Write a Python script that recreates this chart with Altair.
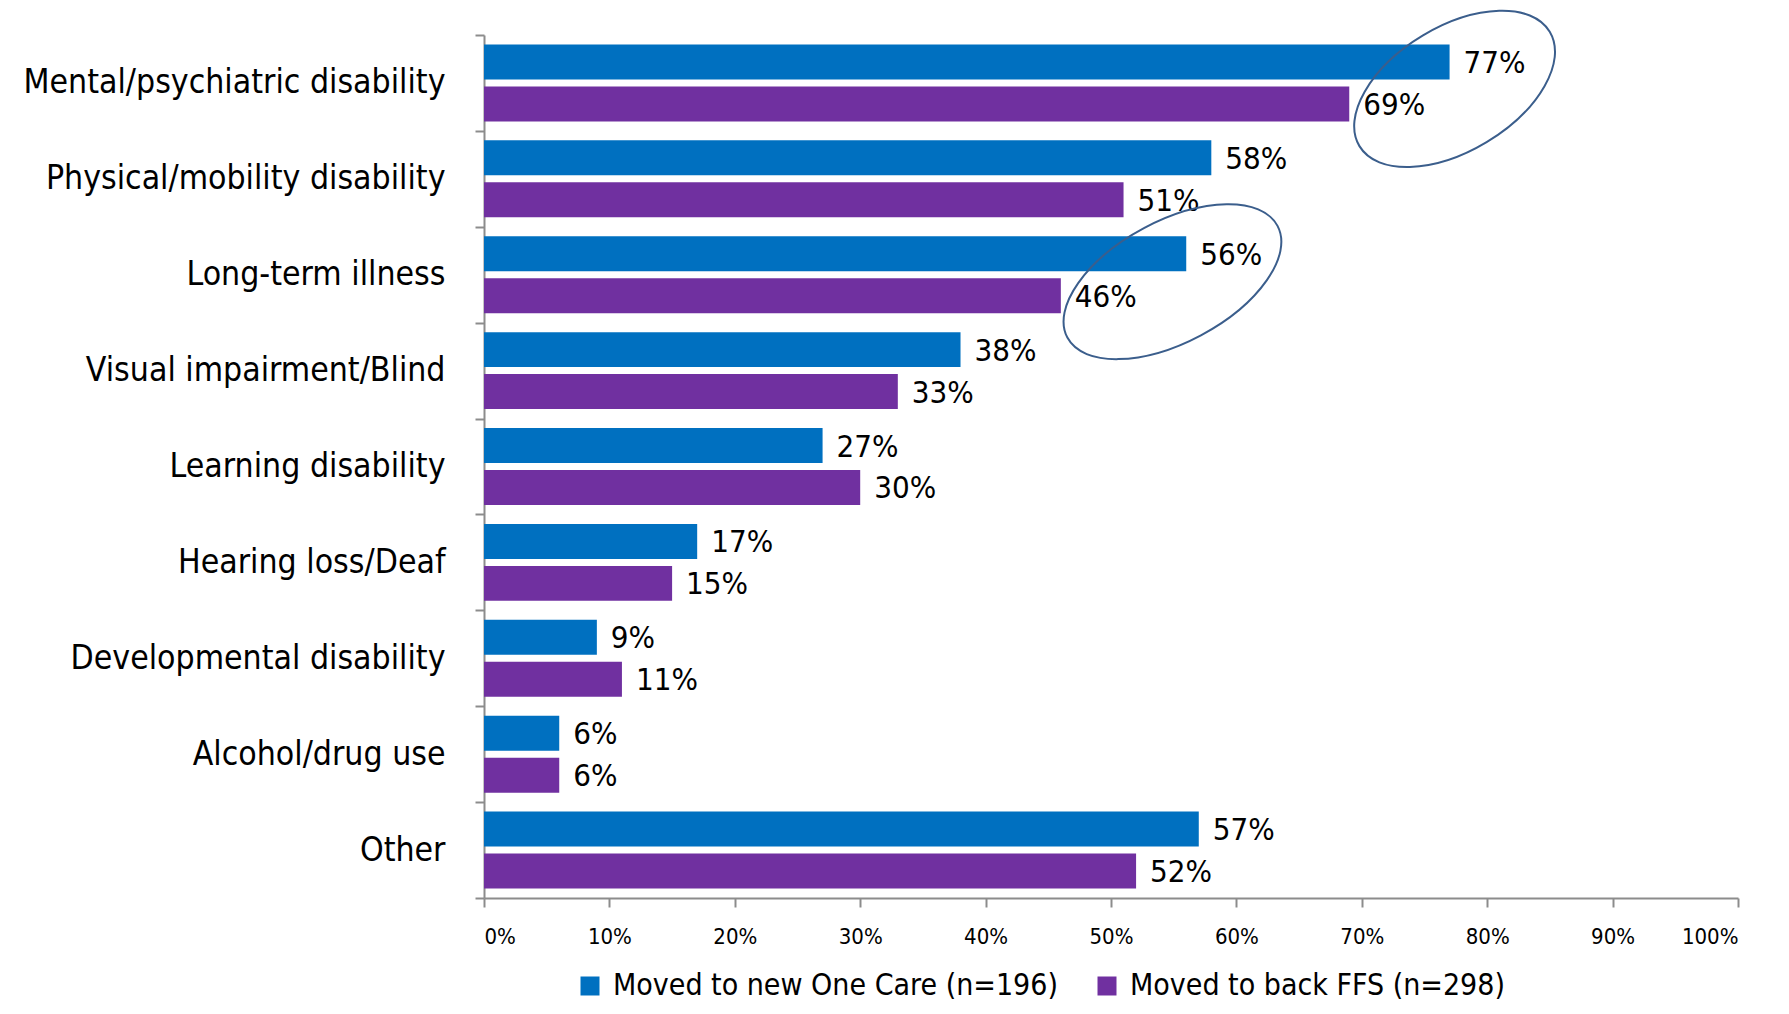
import altair as alt
import pandas as pd

categories = [
    "Mental/psychiatric disability",
    "Physical/mobility disability",
    "Long-term illness",
    "Visual impairment/Blind",
    "Learning disability",
    "Hearing loss/Deaf",
    "Developmental disability",
    "Alcohol/drug use",
    "Other",
]
series = ["Moved to new One Care (n=196)", "Moved to back FFS (n=298)"]
one_care = [77, 58, 56, 38, 27, 17, 9, 6, 57]
ffs = [69, 51, 46, 33, 30, 15, 11, 6, 52]
x_ticks = [0, 10, 20, 30, 40, 50, 60, 70, 80, 90, 100]

# highlight ellipses (category, centre in % of axis)
ellipse_cat = ["Mental/psychiatric disability", "Long-term illness"]
ellipse_x = [77.4, 54.9]

rows = []
for c, a, b in zip(categories, one_care, ffs):
    rows.append({"category": c, "series": series[0], "value": a})
    rows.append({"category": c, "series": series[1], "value": b})
df = pd.DataFrame(rows)
df["label"] = df["value"].astype(str) + "%"

FONT = "DejaVu Sans Condensed, Liberation Sans Narrow, Arial Narrow, sans-serif"
AXIS_GRAY = "#8C8C8C"

y_enc = alt.Y(
    "category:N",
    sort=categories,
    scale=alt.Scale(paddingInner=0, paddingOuter=0),
    axis=alt.Axis(
        title=None,
        tickBand="extent",
        tickSize=9,
        tickWidth=2,
        tickColor=AXIS_GRAY,
        domainColor=AXIS_GRAY,
        domainWidth=2,
        labelFont=FONT,
        labelFontSize=33.5,
        labelColor="black",
        labelPadding=30,
        labelLimit=600,
    ),
)
yoff_enc = alt.YOffset(
    "series:N",
    sort=series,
    scale=alt.Scale(paddingInner=0.167, paddingOuter=0.226),
)
x_enc = alt.X(
    "value:Q",
    scale=alt.Scale(domain=[0, 100], nice=False),
    axis=alt.Axis(
        title=None,
        values=x_ticks,
        labelExpr="datum.value + '%'",
        grid=False,
        tickSize=9,
        tickWidth=2,
        tickColor=AXIS_GRAY,
        domainColor=AXIS_GRAY,
        domainWidth=2,
        labelFont=FONT,
        labelFontSize=22,
        labelColor="black",
        labelPadding=19,
    ),
)

base = alt.Chart(df)

bars = base.mark_bar().encode(
    y=y_enc,
    yOffset=yoff_enc,
    x=x_enc,
    color=alt.Color(
        "series:N",
        sort=series,
        scale=alt.Scale(domain=series, range=["#0070C0", "#7030A0"]),
        legend=alt.Legend(
            title=None,
            orient="none",
            direction="horizontal",
            legendX=91,
            legendY=936,
            symbolType="square",
            symbolSize=361,
            symbolStrokeWidth=0,
            labelFont=FONT,
            labelFontSize=30,
            labelColor="black",
            labelOffset=8,
            columnPadding=34,
            labelLimit=600,
        ),
    ),
)

texts = base.mark_text(
    align="left", baseline="middle", dx=14, dy=2, font=FONT, fontSize=31, color="black"
).encode(
    y=alt.Y("category:N", sort=categories),
    yOffset=yoff_enc,
    x=alt.X("value:Q"),
    text="label:N",
)

ellipse_path = "M -1 0 A 1 0.56 0 1 1 1 0 A 1 0.56 0 1 1 -1 0 Z"
ellipse_path2 = "M -1 0 A 1 0.51 0 1 1 1 0 A 1 0.51 0 1 1 -1 0 Z"

e1 = alt.Chart(pd.DataFrame({"category": [ellipse_cat[0]], "value": [ellipse_x[0]]})).mark_point(
    shape=ellipse_path, size=49284, angle=329, filled=False, stroke="#3B5E8C",
    strokeWidth=2, opacity=1, yOffset=6,
).encode(y=alt.Y("category:N", sort=categories), x="value:Q")

e2 = alt.Chart(pd.DataFrame({"category": [ellipse_cat[1]], "value": [ellipse_x[1]]})).mark_point(
    shape=ellipse_path2, size=56644, angle=332, filled=False, stroke="#3B5E8C",
    strokeWidth=2, opacity=1, yOffset=7,
).encode(y=alt.Y("category:N", sort=categories), x="value:Q")

chart = (
    alt.layer(bars, texts, e1, e2)
    .properties(
        width=1254,
        height=863,
        autosize=alt.AutoSizeParams(type="none"),
        padding={"left": 476, "top": 27, "right": 40, "bottom": 108},
    )
    .configure(background="white", view=alt.ViewConfig(stroke=None))
)

chart.save("out.html", embed_options={"renderer": "svg", "actions": False})
